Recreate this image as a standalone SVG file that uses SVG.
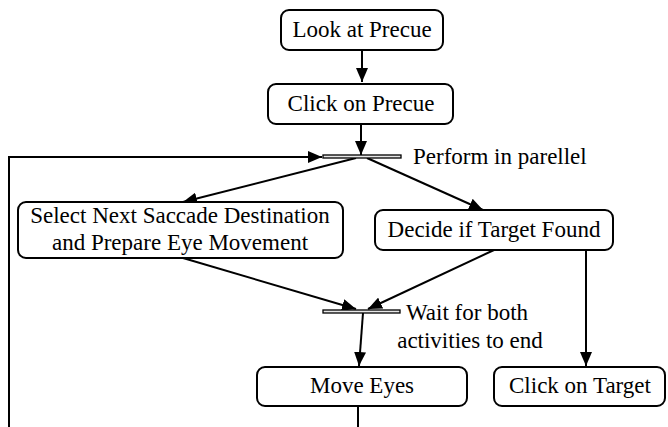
<svg xmlns="http://www.w3.org/2000/svg" width="668" height="427" viewBox="0 0 668 427">
<style>
.box{fill:#fff;stroke:#000;stroke-width:2}
.bar{fill:#e6e6e6;stroke:#000;stroke-width:1.3}
text{font-family:'Liberation Serif','Times New Roman',serif;font-size:23px;fill:#000}
.c{text-anchor:middle}
.ln{fill:none;stroke:#000;stroke-width:2}
</style>
<defs>
<marker id="ah" viewBox="0 0 14 12" refX="14" refY="6" markerWidth="14" markerHeight="12" markerUnits="userSpaceOnUse" orient="auto">
<path d="M0,0 L14,6 L0,12 Z" fill="#000"/>
</marker>
</defs>
<rect width="668" height="427" fill="#fff"/>
<g id="connectors">
<line class="ln" x1="362" y1="50" x2="362" y2="82" marker-end="url(#ah)"/>
<line class="ln" x1="361" y1="124" x2="361" y2="155" marker-end="url(#ah)"/>
<polyline class="ln" points="9,427 9,157 322,157" marker-end="url(#ah)"/>
<line class="ln" x1="356" y1="158" x2="183" y2="202" marker-end="url(#ah)"/>
<line class="ln" x1="367" y1="158" x2="483" y2="210" marker-end="url(#ah)"/>
<line class="ln" x1="183" y1="258" x2="356" y2="309" marker-end="url(#ah)"/>
<line class="ln" x1="494" y1="250" x2="368" y2="309" marker-end="url(#ah)"/>
<line class="ln" x1="363" y1="313" x2="359" y2="366" marker-end="url(#ah)"/>
<line class="ln" x1="586" y1="250" x2="586" y2="366" marker-end="url(#ah)"/>
<line class="ln" x1="358" y1="406" x2="358" y2="427"/>
</g>
<g id="look">
<rect class="box" x="281" y="10" width="162" height="40" rx="8"/>
<text class="c" x="362" y="37">Look at Precue</text>
</g>
<g id="click-precue">
<rect class="box" x="268" y="84" width="185" height="40" rx="8"/>
<text class="c" x="361" y="111">Click on Precue</text>
</g>
<g id="fork">
<rect class="bar" x="323" y="155" width="78" height="3"/>
<text x="413" y="164">Perform in parellel</text>
</g>
<g id="select">
<rect class="box" x="18" y="202" width="325" height="56" rx="8"/>
<text class="c" x="180" y="223">Select Next Saccade Destination</text>
<text class="c" x="180" y="250">and Prepare Eye Movement</text>
</g>
<g id="decide">
<rect class="box" x="375" y="210" width="238" height="40" rx="8"/>
<text class="c" x="494" y="237">Decide if Target Found</text>
</g>
<g id="join">
<rect class="bar" x="323" y="310" width="77" height="3"/>
<text class="c" x="467" y="320">Wait for both</text>
<text class="c" x="470" y="348">activities to end</text>
</g>
<g id="move">
<rect class="box" x="257" y="367" width="210" height="39" rx="8"/>
<text class="c" x="362" y="393">Move Eyes</text>
</g>
<g id="click-target">
<rect class="box" x="494" y="367" width="171" height="39" rx="8"/>
<text class="c" x="580" y="393">Click on Target</text>
</g>
</svg>
